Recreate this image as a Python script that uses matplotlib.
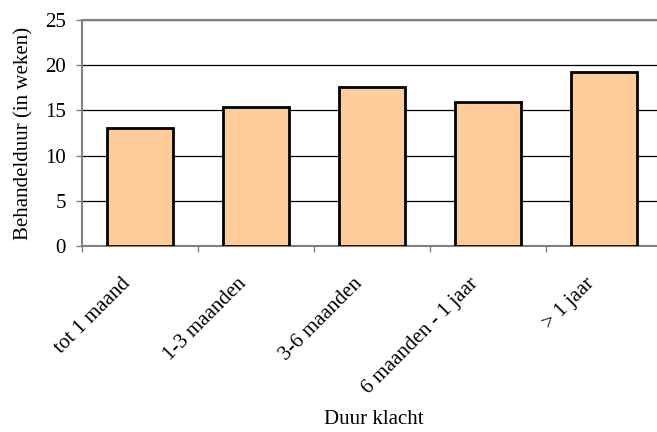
import matplotlib
matplotlib.use("Agg")
import matplotlib.pyplot as plt
import matplotlib.transforms as mtransforms
import numpy as np

categories = ["tot 1 maand", "1-3 maanden", "3-6 maanden", "6 maanden - 1 jaar", "> 1 jaar"]
behandelduur = [13.1, 15.4, 17.6, 15.9, 19.3]
y_ticks = [0, 5, 10, 15, 20, 25]

plt.rcParams["font.family"] = ["Liberation Serif", "DejaVu Serif"]
FS = 15
AXIS_GREY = "#808080"

fig = plt.figure(figsize=(6.57, 4.32), dpi=100)
ax = fig.add_axes([82 / 657, 186 / 432, 580 / 657, 226 / 432])

x = np.arange(len(categories))
ax.bar(x, behandelduur, width=0.57, color="#FFCC99", edgecolor="black", linewidth=2, zorder=3)

ax.set_xlim(-0.5, len(categories) - 0.5)
ax.set_ylim(0, 25)
ax.set_yticks(y_ticks)
ax.yaxis.grid(True, color="black", linewidth=0.9)
ax.set_axisbelow(True)

ax.spines["right"].set_visible(False)
for side in ("left", "bottom", "top"):
    ax.spines[side].set_color(AXIS_GREY)
    ax.spines[side].set_linewidth(1.5)

ax.tick_params(axis="y", direction="out", length=4.5, width=1, color=AXIS_GREY, labelsize=FS, pad=7)

# category labels, rotated, ending just left of each bar centre
ax.set_xticks(x)
ax.set_xticklabels(categories, rotation=45, ha="right", va="center", rotation_mode="anchor", fontsize=FS)
ax.tick_params(axis="x", which="major", length=0, pad=25)
shift = mtransforms.ScaledTranslation(-12 / 100, 0, fig.dpi_scale_trans)
for lbl in ax.get_xticklabels():
    lbl.set_transform(lbl.get_transform() + shift)

# category boundary ticks
ax.set_xticks(np.arange(-0.5, len(categories) - 0.5, 1.0), minor=True)
ax.tick_params(axis="x", which="minor", direction="out", length=4.5, width=1, color=AXIS_GREY)

ax.set_ylabel("Behandelduur (in weken)", fontsize=FS)
ax.yaxis.set_label_coords(-0.0845, 0.5)
fig.text(374 / 657, 1 - 420 / 432, "Duur klacht", ha="center", va="center", fontsize=FS)

fig.savefig("out.png", dpi=100)
